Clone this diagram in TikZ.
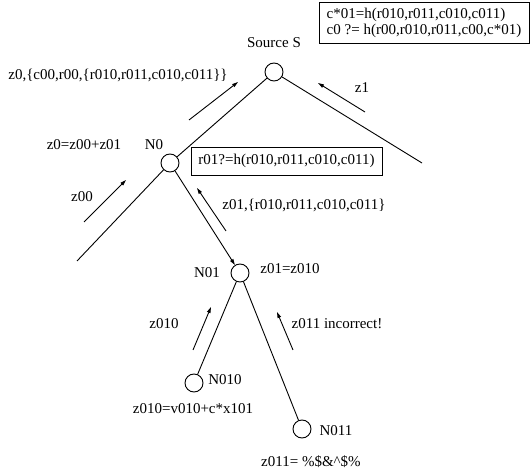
\documentclass[tikz,border=0pt]{standalone}
\usepackage{fontspec}
\setmainfont{Liberation Serif}
\usetikzlibrary{arrows.meta}
\begin{document}
\begin{tikzpicture}[x=1pt,y=-1pt,
  every node/.style={font=\fontsize{15}{16}\selectfont},
  vertex/.style={circle,draw,line width=0.9pt,minimum size=18pt,inner sep=0pt},
  lbl/.style={anchor=base,inner sep=0pt},
  edge/.style={line width=0.9pt},
  flow/.style={line width=0.9pt,-{Triangle[length=6pt,width=3.5pt]}},
  box/.style={draw,line width=0.9pt,inner sep=0pt,align=left}]
\useasboundingbox (0,0) rectangle (531,473);

% vertices
\node[vertex] (S) at (274,72) {};
\node[vertex] (N0) at (170,163) {};
\node[vertex] (N01) at (240,273) {};
\node[vertex] (N010) at (194,383) {};
\node[vertex] (N011) at (302,429) {};
\coordinate (Rend) at (422,163);
\coordinate (Lend) at (77,261);

% tree edges
\draw[edge] (S) -- (N0);
\draw[edge] (S) -- (Rend);
\draw[edge] (N0) -- (Lend);
\draw[edge,-{Triangle[length=6pt,width=3.5pt]}] (N0) -- (N01);
\draw[edge] (N01) -- (N010);
\draw[edge] (N01) -- (N011);

% flow arrows
\coordinate (a0s) at (189,120); \coordinate (a0e) at (238,82);
\coordinate (a1s) at (365,112); \coordinate (a1e) at (318,83);
\coordinate (a00s) at (84,222); \coordinate (a00e) at (126,180);
\coordinate (a01s) at (226,231); \coordinate (a01e) at (197,188);
\coordinate (a010s) at (193,350); \coordinate (a010e) at (211,307);
\coordinate (a011s) at (293,350); \coordinate (a011e) at (277,312);
\draw[flow] (a0s) -- (a0e);
\draw[flow] (a1s) -- (a1e);
\draw[flow] (a00s) -- (a00e);
\draw[flow] (a01s) -- (a01e);
\draw[flow] (a010s) -- (a010e);
\draw[flow] (a011s) -- (a011e);

% boxes
\node[box,minimum width=210pt,minimum height=41pt] (hbox) at (424,22.5)
  {c*01=h(r010,r011,c010,c011)\\c0 ?= h(r00,r010,r011,c00,c*01)};
\node[box,minimum width=191pt,minimum height=28pt] (rbox) at (286.5,161)
  {r01?=h(r010,r011,c010,c011)};

% labels
\node[lbl] (tS) at (274,48) {Source S};
\node[lbl] (tz0) at (118,80) {z0,\{c00,r00,\{r010,r011,c010,c011\}\}};
\node[lbl] (tz1) at (362,93) {z1};
\node[lbl] (tz0s) at (84,150) {z0=z00+z01};
\node[lbl] (tN0) at (154,150) {N0};
\node[lbl] (tz00) at (82,202) {z00};
\node[lbl] (tz01) at (304,210) {z01,\{r010,r011,c010,c011\}};
\node[lbl] (tN01) at (207,278) {N01};
\node[lbl] (tz01s) at (290,274) {z01=z010};
\node[lbl] (tz010) at (164,329) {z010};
\node[lbl] (tz011) at (337,329) {z011 incorrect!};
\node[lbl] (tN010) at (225,385) {N010};
\node[lbl] (tz010s) at (193,414) {z010=v010+c*x101};
\node[lbl] (tN011) at (336,436) {N011};
\node[lbl] (tz011s) at (311,467) {z011= \%\$\&\textasciicircum\$\%};
\end{tikzpicture}
\end{document}
